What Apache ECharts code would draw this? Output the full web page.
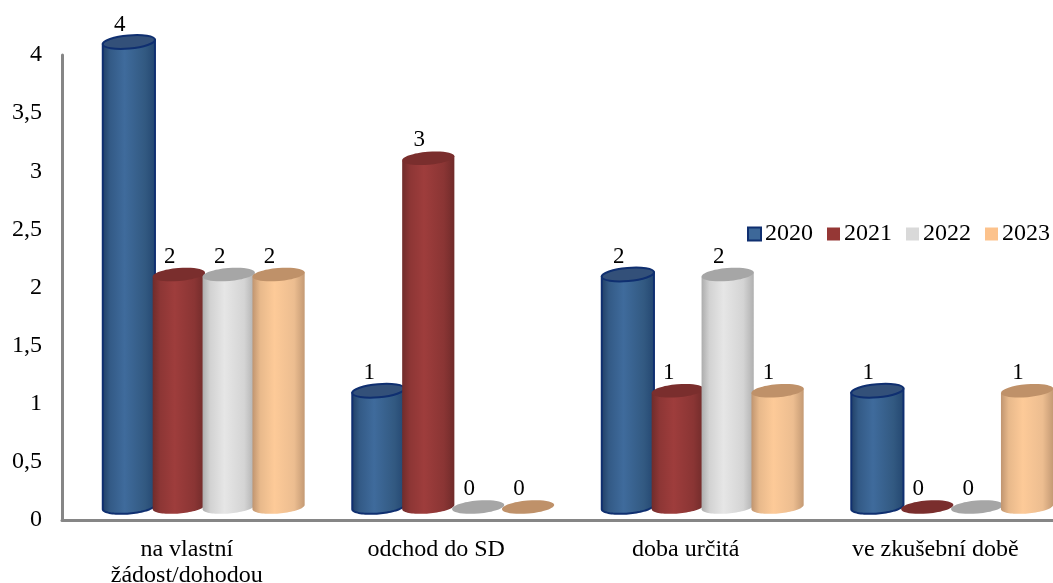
<!DOCTYPE html>
<html>
<head>
<meta charset="utf-8">
<style>html,body{margin:0;padding:0;background:#fff}#c{width:1053px;height:583px}</style>
<script src="https://cdn.jsdelivr.net/npm/echarts@6/dist/echarts.min.js"></script>
</head>
<body>
<div id="c"></div>
<script>
const categories = ['na vlastní\nžádost/dohodou', 'odchod do SD', 'doba určitá', 've zkušební době'];
const years = ['2020', '2021', '2022', '2023'];
const v2020 = [4, 1, 2, 1];
const v2021 = [2, 3, 1, 0];
const v2022 = [2, 0, 2, 0];
const v2023 = [2, 0, 1, 1];
const seriesValues = [v2020, v2021, v2022, v2023];

const palette = [
  {edge: '#1f3d63', soft: '#335a86', mid: '#3f6b9c', soft2: '#325981', edge2: '#234670', top: '#335079', stroke: '#0f2f70', sw: 2, legend: '#3d6899'},
  {edge: '#702c2b', soft: '#8d3635', mid: '#9e3d3c', soft2: '#8a3534', edge2: '#702b2a', top: '#7a2e2d', stroke: null, sw: 0, legend: '#953735'},
  {edge: '#adadad', soft: '#d2d2d2', mid: '#e6e6e6', soft2: '#d4d4d4', edge2: '#b0b0b0', top: '#a6a6a6', stroke: null, sw: 0, legend: '#d9d9d9'},
  {edge: '#c09570', soft: '#e8b98b', mid: '#fdca98', soft2: '#ecbd90', edge2: '#c49a74', top: '#bf9169', stroke: null, sw: 0, legend: '#fcc28c'}
];
const TILT = 5 * Math.PI / 180;
const DEPTH = 13, LABEL_FONT = '23px "Liberation Serif"';

function renderItem(params, api) {
  const si = params.seriesIndex, p = palette[si];
  const band = api.size([1, 0])[0];
  const rx = band * 0.105, ry = 6.5;
  const val = api.value(1);
  const c = api.coord([api.value(0), val]);
  const c0 = api.coord([api.value(0), 0]);
  const cx = c[0] + band * (-0.232 + si * 0.2);
  const topY = c[1] - DEPTH, baseY = c0[1] - DEPTH;
  const cos = Math.cos(TILT), sin = Math.sin(TILT);
  const children = [];
  if (val > 0) {
    const pts = [];
    for (let k = 0; k <= 40; k++) {
      const t = Math.PI - k / 40 * Math.PI;
      const ex = rx * Math.cos(t), ey = ry * Math.sin(t);
      pts.push([cx + ex * cos + ey * sin, baseY - ex * sin + ey * cos]);
    }
    const right = pts[pts.length - 1], left = pts[0];
    const poly = pts.concat([[right[0], topY - rx * sin], [left[0], topY + rx * sin]]);
    children.push({
      type: 'polygon',
      shape: {points: poly},
      style: {
        fill: {type: 'linear', x: 0, y: 0, x2: 1, y2: 0, colorStops: [
          {offset: 0, color: p.edge}, {offset: 0.15, color: p.soft}, {offset: 0.42, color: p.mid},
          {offset: 0.8, color: p.soft2}, {offset: 1, color: p.edge2}
        ]},
        stroke: p.stroke, lineWidth: p.sw
      }
    });
  }
  children.push({
    type: 'ellipse',
    x: cx, y: topY, rotation: TILT,
    shape: {cx: 0, cy: 0, rx: rx, ry: ry},
    style: {fill: p.top, stroke: p.stroke, lineWidth: p.sw}
  });
  children.push({
    type: 'text',
    style: {
      text: String(val), x: cx - 9, y: topY - (val === 4 ? 17 : 18),
      align: 'center', verticalAlign: 'middle',
      font: LABEL_FONT, fill: '#000'
    }
  });
  return {type: 'group', children: children};
}

const chart = echarts.init(document.getElementById('c'), null, {renderer: 'canvas'});
chart.setOption({
  animation: false,
  backgroundColor: '#fff',
  textStyle: {fontFamily: 'Liberation Serif'},
  grid: {left: 62, width: 998, top: 55, bottom: 63, containLabel: false, outerBoundsMode: 'none'},
  legend: {
    left: 747, top: 222, width: 400, padding: 0, orient: 'horizontal',
    itemWidth: 13, itemHeight: 13, itemGap: 14, icon: 'rect',
    textStyle: {fontFamily: 'Liberation Serif', fontSize: 24, color: '#000', padding: [2, 0, 0, -1]},
    data: years.map((y, i) => ({
      name: y, icon: 'rect',
      itemStyle: {color: palette[i].legend, borderColor: palette[i].stroke || palette[i].legend, borderWidth: palette[i].sw}
    }))
  },
  xAxis: {
    type: 'category', data: categories,
    axisTick: {show: false},
    axisLine: {lineStyle: {color: '#868686', width: 3}},
    axisLabel: {fontFamily: 'Liberation Serif', fontSize: 24, color: '#000', margin: 17, lineHeight: 26, interval: 0}
  },
  yAxis: {
    type: 'value', min: 0, max: 4, interval: 0.5,
    splitLine: {show: false},
    axisTick: {show: false},
    axisLine: {show: true, lineStyle: {color: '#868686', width: 3}},
    axisLabel: {
      fontFamily: 'Liberation Serif', fontSize: 24, color: '#000', margin: 20, padding: [6, 0, 0, 0],
      formatter: v => String(v).replace('.', ',')
    }
  },
  series: years.map((y, i) => ({
    type: 'custom', name: y, coordinateSystem: 'cartesian2d',
    renderItem: renderItem, clip: false,
    itemStyle: {color: palette[i].legend},
    encode: {x: 0, y: 1},
    data: seriesValues[i].map((v, k) => [k, v])
  }))
});
</script>
</body>
</html>
